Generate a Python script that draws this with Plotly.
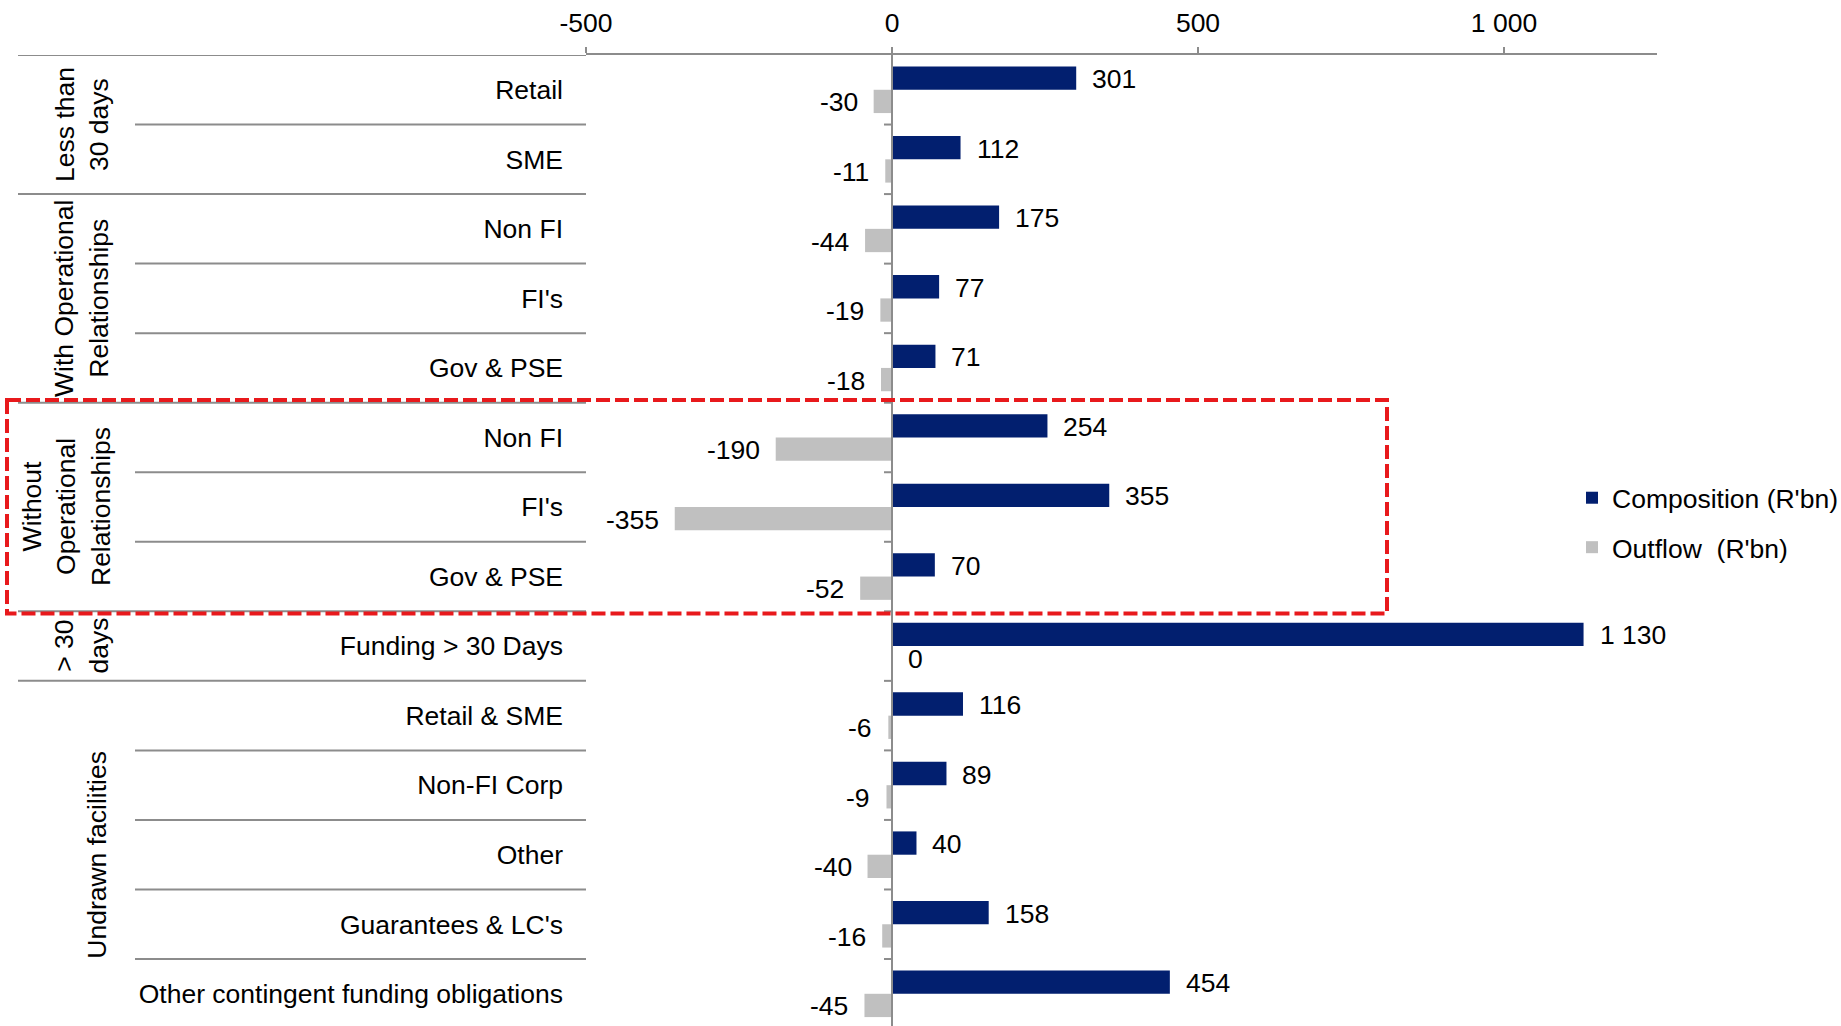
import plotly.graph_objects as go

# Row categories, top to bottom
categories = [
    "Retail", "SME",
    "Non FI", "FI's", "Gov & PSE",
    "Non FI", "FI's", "Gov & PSE",
    "Funding > 30 Days",
    "Retail & SME", "Non-FI Corp", "Other", "Guarantees & LC's",
    "Other contingent funding obligations",
]
composition = [301, 112, 175, 77, 71, 254, 355, 70, 1130, 116, 89, 40, 158, 454]
outflow = [-30, -11, -44, -19, -18, -190, -355, -52, 0, -6, -9, -40, -16, -45]

# Outer category groups: (label lines, first row, last row)
groups = [
    (["Less than", "30 days"], 0, 1),
    (["With Operational", "Relationships"], 2, 4),
    (["Without", "Operational", "Relationships"], 5, 7),
    (["> 30", "days"], 8, 8),
    (["Undrawn facilities"], 9, 13),
]
highlight_rows = (5, 7)

tick_vals = [-500, 0, 500, 1000]
tick_text = ["-500", "0", "500", "1 000"]
x_range = [-500, 1250]

NAVY = "#021F6F"
GREY = "#C0C0C0"
LINE = "#8C8C8C"
FONT = "Liberation Sans, Arial, sans-serif"
FS = 26.5

W, H = 1841, 1026
ML, MR, MT, MB = 586, 184, 55, 0
row_px = 69.54
n_rows = len(categories)
y_bottom = -0.5 + (H - MT - MB) / row_px

def px_to_paper(px):
    return (px - ML) / (W - ML - MR)

rows = list(range(n_rows))
bargap = 0.33
half = (1 - bargap) / 2

def fmt(v):
    return f"{v:,}".replace(",", " ")

fig = go.Figure()
fig.add_trace(go.Bar(
    y=rows, x=composition, orientation="h", name="Composition (R'bn)",
    marker=dict(color=NAVY, line=dict(width=0)), legendgroup="c",
    hoverinfo="x",
))
fig.add_trace(go.Bar(
    y=rows, x=outflow, orientation="h", name="Outflow\u00a0 (R'bn)",
    marker=dict(color=GREY, line=dict(width=0)), legendgroup="o",
    hoverinfo="x",
))

annotations = []
# value labels beside each bar
for i, v in enumerate(composition):
    annotations.append(dict(
        x=v, y=i - half / 2, xref="x", yref="y", text=fmt(v), showarrow=False,
        xanchor="left", yanchor="middle", xshift=14, yshift=-1,
        font=dict(family=FONT, size=FS, color="#000"),
    ))
for i, v in enumerate(outflow):
    left = v < 0
    annotations.append(dict(
        x=v, y=i + half / 2, xref="x", yref="y", text=fmt(v), showarrow=False,
        xanchor="right" if left else "left", yanchor="middle",
        xshift=-14 if left else 14, yshift=-1,
        font=dict(family=FONT, size=FS, color="#000"),
    ))

# rotated outer group labels
line_h = 31
for lines, r0, r1 in groups:
    cx = 97 - (len(lines) - 1) * line_h / 2
    annotations.append(dict(
        x=px_to_paper(cx), y=(r0 + r1) / 2, xref="paper", yref="y",
        text="<br>".join(lines), showarrow=False, textangle=-90,
        xanchor="center", yanchor="middle", align="center",
        font=dict(family=FONT, size=FS, color="#000"),
    ))

shapes = []
group_starts = {g[1] for g in groups}
x_inner = px_to_paper(135)
x_outer = px_to_paper(18)
# top border of the label block
shapes.append(dict(type="line", xref="paper", yref="y", x0=x_outer, x1=0,
                   y0=-0.5, y1=-0.5, line=dict(color=LINE, width=2)))
for k in range(1, n_rows):
    x0 = x_outer if k in group_starts else x_inner
    shapes.append(dict(type="line", xref="paper", yref="y", x0=x0, x1=0,
                       y0=k - 0.5, y1=k - 0.5, line=dict(color=LINE, width=2)))
    # small category tick on the zero axis
    shapes.append(dict(type="line", xref="x", yref="y", xsizemode="pixel", xanchor=0,
                       x0=-8, x1=0, y0=k - 0.5, y1=k - 0.5,
                       line=dict(color=LINE, width=2)))
# vertical category axis at zero
shapes.append(dict(type="line", xref="x", yref="paper", x0=0, x1=0, y0=0, y1=1,
                   line=dict(color=LINE, width=2)))
# dashed highlight around the rows without operational relationships
shapes.append(dict(
    type="rect", xref="paper", yref="y",
    x0=px_to_paper(7), x1=px_to_paper(1387),
    y0=highlight_rows[0] - 0.54, y1=highlight_rows[1] + 0.53,
    line=dict(color="#E8191C", width=4, dash="14px,5px"),
    fillcolor="rgba(0,0,0,0)", layer="above",
))

fig.update_layout(
    width=W, height=H,
    margin=dict(l=ML, r=MR, t=MT, b=MB, pad=0, autoexpand=False),
    paper_bgcolor="white", plot_bgcolor="white",
    barmode="group", bargap=bargap, bargroupgap=0,
    font=dict(family=FONT, size=FS, color="#000"),
    showlegend=True,
    legend=dict(
        xref="container", yref="container",
        x=1572 / W, y=1 - 474 / H, xanchor="left", yanchor="top",
        font=dict(family=FONT, size=FS, color="#000"),
        tracegroupgap=12, bgcolor="rgba(0,0,0,0)",
    ),
    xaxis=dict(
        side="top", range=x_range, tickvals=tick_vals, ticktext=tick_text,
        showline=True, linecolor=LINE, linewidth=2,
        ticks="outside", ticklen=6, tickcolor=LINE, tickwidth=1.5,
        ticklabelstandoff=4,
        showgrid=False, zeroline=False, fixedrange=True,
        tickfont=dict(family=FONT, size=FS, color="#000"),
    ),
    yaxis=dict(
        range=[y_bottom, -0.5], tickvals=rows, ticktext=categories,
        showline=False, showgrid=False, zeroline=False, ticks="",
        ticklabelstandoff=22, fixedrange=True,
        tickfont=dict(family=FONT, size=FS, color="#000"),
    ),
    annotations=annotations,
    shapes=shapes,
)

fig.write_html("out.html")
